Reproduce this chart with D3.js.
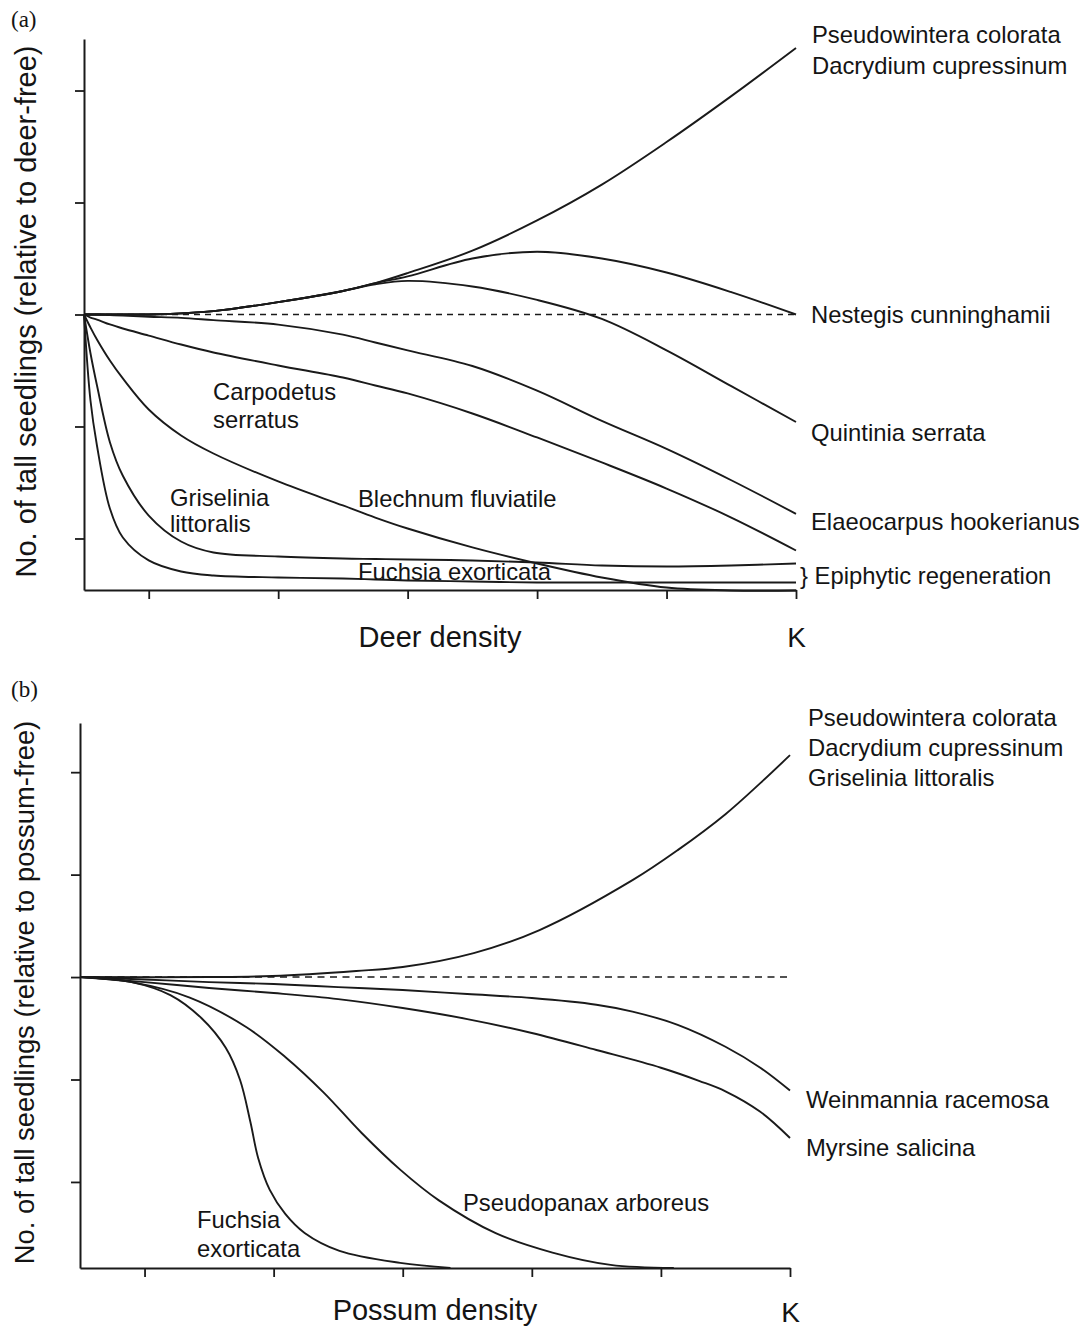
<!DOCTYPE html>
<html>
<head>
<meta charset="utf-8">
<script src="https://cdn.jsdelivr.net/npm/d3@7"></script>
<style>
  html, body { margin: 0; padding: 0; background: #fff; }
  svg text { font-family: "Liberation Sans", Arial, Helvetica, sans-serif; fill: #141414; }
  svg text.panel-tag { font-family: "Liberation Serif", "Times New Roman", serif; }
</style>
</head>
<body>
<svg id="fig" width="1086" height="1328"></svg>
<script>
// ---- Panel (a): response of tall seedlings to deer density ----
// density in tick units (K = 5.5), response in log units relative to deer-free (0)
const deerDensity = [0, 0.05, 0.1, 0.2, 0.3, 0.5, 0.75, 1, 1.5, 2, 2.25, 2.5, 3, 3.5, 4, 4.5, 5, 5.5];
const deerPseudowintera = [0, 0, 0, 0, 0, 0, 0.01, 0.03, 0.11, 0.21, 0.28, 0.37, 0.57, 0.84, 1.16, 1.54, 1.95, 2.38];
const deerNestegis      = [0, 0, 0, 0, 0, 0, 0.01, 0.03, 0.11, 0.21, 0.28, 0.34, 0.50, 0.56, 0.50, 0.375, 0.20, 0];
const deerQuintinia     = [0, 0, 0, 0, 0, 0, 0.01, 0.03, 0.11, 0.21, 0.27, 0.30, 0.25, 0.13, -0.04, -0.32, -0.64, -0.96];
const deerElaeocarpus   = [0, 0, 0, -0.005, -0.01, -0.02, -0.03, -0.05, -0.09, -0.18, -0.25, -0.32, -0.46, -0.68, -0.95, -1.20, -1.48, -1.78];
const deerDecliner      = [0, -0.027, -0.045, -0.089, -0.125, -0.188, -0.268, -0.339, -0.455, -0.563, -0.634, -0.705, -0.884, -1.098, -1.321, -1.554, -1.813, -2.107];
const deerBlechnum      = [0, -0.116, -0.223, -0.411, -0.571, -0.848, -1.080, -1.241, -1.491, -1.705, -1.813, -1.911, -2.080, -2.223, -2.348, -2.438, -2.464, -2.464];
const deerGriselinia    = [0, -0.346, -0.632, -1.14, -1.44, -1.795, -2.027, -2.125, -2.161, -2.179, -2.183, -2.188, -2.196, -2.214, -2.241, -2.25, -2.241, -2.223];
const deerFuchsia       = [0, -0.768, -1.17, -1.732, -1.991, -2.196, -2.295, -2.330, -2.348, -2.357, -2.366, -2.375, -2.384, -2.393, -2.393, -2.393, -2.393, -2.393];

// ---- Panel (b): response of tall seedlings to possum density ----
// each series as [density, response] pairs
const possumPseudowintera = [[0, 0], [1.01, 0], [1.49, 0.01], [2.14, 0.059], [2.5, 0.098], [3.05, 0.234], [3.56, 0.459], [4.28, 0.946], [4.63, 1.239], [5.0, 1.59], [5.27, 1.893], [5.5, 2.166]];
const possumWeinmannia = [[0, 0], [0.5, -0.024], [1, -0.049], [1.5, -0.068], [2, -0.098], [2.5, -0.127], [3, -0.166], [3.5, -0.205], [4, -0.27], [4.28, -0.337], [4.63, -0.466], [5.0, -0.68], [5.27, -0.885], [5.5, -1.108]];
const possumMyrsine = [[0, 0], [0.5, -0.049], [1, -0.107], [1.5, -0.156], [2, -0.215], [2.5, -0.302], [3, -0.41], [3.5, -0.546], [4, -0.712], [4.5, -0.885], [4.8, -1.015], [5.0, -1.115], [5.27, -1.315], [5.5, -1.571]];
const possumPseudopanax = [[0, 0], [0.4, -0.05], [0.85, -0.2], [1.29, -0.49], [1.59, -0.78], [1.89, -1.13], [2.18, -1.52], [2.48, -1.88], [2.78, -2.18], [3.22, -2.5], [3.66, -2.69], [4.11, -2.81], [4.6, -2.84]];
const possumFuchsia = [[0, 0], [0.4, -0.049], [0.7, -0.176], [0.94, -0.4], [1.13, -0.693], [1.24, -1.005], [1.32, -1.415], [1.38, -1.766], [1.47, -2.078], [1.59, -2.312], [1.74, -2.498], [2.01, -2.673], [2.48, -2.79], [2.87, -2.839]];

// ---- axes ----
const densityTicks = [0.5, 1.5, 2.5, 3.5, 4.5, 5.5];
const carryingCapacity = 5.5;
const responseTicks = [-2, -1, 0, 1, 2];

// ---- text ----
const deerLabels = [
  { lines: ["Pseudowintera colorata", "Dacrydium cupressinum"], dx: 728, dy: 4, lh: 31 },
  { lines: ["Nestegis cunninghamii"], dx: 727, dy: 284 },
  { lines: ["Quintinia serrata"], dx: 727, dy: 402 },
  { lines: ["Elaeocarpus hookerianus"], dx: 727, dy: 491 },
  { lines: ["} Epiphytic regeneration"], dx: 716, dy: 545 },
  { lines: ["Carpodetus", "serratus"], dx: 129, dy: 361, lh: 28 },
  { lines: ["Griselinia", "littoralis"], dx: 86, dy: 467, lh: 25.5 },
  { lines: ["Blechnum fluviatile"], dx: 274, dy: 468 },
  { lines: ["Fuchsia exorticata"], dx: 274, dy: 541 }
];
const possumLabels = [
  { lines: ["Pseudowintera colorata", "Dacrydium cupressinum", "Griselinia littoralis"], dx: 728, dy: 3, lh: 30 },
  { lines: ["Weinmannia racemosa"], dx: 726, dy: 385 },
  { lines: ["Myrsine salicina"], dx: 726, dy: 433 },
  { lines: ["Pseudopanax arboreus"], dx: 383, dy: 488 },
  { lines: ["Fuchsia", "exorticata"], dx: 117, dy: 505, lh: 29 }
];

const svg = d3.select("#fig");
const INK = "#1a1a1a";

function drawPanel(cfg) {
  const g = svg.append("g").attr("transform", `translate(${cfg.left},${cfg.top})`);
  const x = d3.scaleLinear().domain([0, carryingCapacity]).range([0, cfg.width]);
  const y = d3.scaleLinear().domain(cfg.yDomain).range([cfg.height, 0]);

  // dashed reference line at the density-free level
  g.append("line")
    .attr("x1", x(0)).attr("x2", x(carryingCapacity))
    .attr("y1", y(0)).attr("y2", y(0))
    .attr("stroke", INK).attr("stroke-width", 1.6)
    .attr("stroke-dasharray", cfg.dash);

  const line = d3.line()
    .x(d => x(d[0])).y(d => y(d[1]))
    .curve(d3.curveCatmullRom.alpha(0.5));

  g.append("g").selectAll("path")
    .data(cfg.series)
    .join("path")
    .attr("d", line)
    .attr("fill", "none")
    .attr("stroke", INK)
    .attr("stroke-width", 1.9)
    .attr("stroke-linejoin", "round");

  // axes
  const yAxis = g.append("g")
    .call(d3.axisLeft(y).tickValues(responseTicks).tickSize(9).tickSizeOuter(0).tickFormat(""));
  const xAxis = g.append("g").attr("transform", `translate(0,${cfg.height})`)
    .call(d3.axisBottom(x).tickValues(densityTicks).tickSize(9).tickSizeOuter(0)
      .tickPadding(cfg.kPad).tickFormat(d => d === carryingCapacity ? "K" : ""));
  [yAxis, xAxis].forEach(a => {
    a.selectAll("path, line").attr("stroke", INK).attr("stroke-width", 1.8);
    a.select(".domain").attr("stroke-width", 2);
  });
  xAxis.selectAll("text").attr("font-size", 28).attr("fill", INK)
    .style("font-family", '"Liberation Sans", Arial, sans-serif');

  // axis titles
  g.append("text")
    .attr("x", cfg.width / 2).attr("y", cfg.height + cfg.xTitleDy)
    .attr("text-anchor", "middle").attr("font-size", 29)
    .text(cfg.xTitle);
  g.append("text")
    .attr("transform", `translate(${cfg.yTitleX - cfg.left},${cfg.height / 2 - 3}) rotate(-90)`)
    .attr("text-anchor", "middle").attr("font-size", cfg.yTitleSize)
    .text(cfg.yTitle);

  // series labels
  cfg.labels.forEach(lab => {
    const t = g.append("text").attr("font-size", 23.8)
      .attr("x", lab.dx).attr("y", lab.dy);
    lab.lines.forEach((s, i) => {
      t.append("tspan").attr("x", lab.dx).attr("dy", i === 0 ? 0 : (lab.lh || 28)).text(s);
    });
  });

  // panel tag
  svg.append("text").attr("class", "panel-tag")
    .attr("x", 11).attr("y", cfg.tagY).attr("font-size", 23)
    .text(cfg.tag);
}

const zipDeer = vals => deerDensity.map((d, i) => [d, vals[i]]);

drawPanel({
  left: 84, top: 39, width: 712, height: 551,
  yDomain: [-2.46, 2.46],
  dash: "6,5",
  series: [deerPseudowintera, deerNestegis, deerQuintinia, deerElaeocarpus,
           deerDecliner, deerBlechnum, deerGriselinia, deerFuchsia].map(zipDeer),
  xTitle: "Deer density", xTitleDy: 57, kPad: 28,
  yTitle: "No. of tall seedlings (relative to deer-free)", yTitleX: 36, yTitleSize: 29,
  labels: deerLabels,
  tag: "(a)", tagY: 27
});

drawPanel({
  left: 80, top: 723, width: 710, height: 545,
  yDomain: [-2.84, 2.48],
  dash: "7,5.5",
  series: [possumPseudowintera, possumWeinmannia, possumMyrsine, possumPseudopanax, possumFuchsia],
  xTitle: "Possum density", xTitleDy: 52, kPad: 25,
  yTitle: "No. of tall seedlings (relative to possum-free)", yTitleX: 34, yTitleSize: 27.4,
  labels: possumLabels,
  tag: "(b)", tagY: 697
});
</script>
</body>
</html>
